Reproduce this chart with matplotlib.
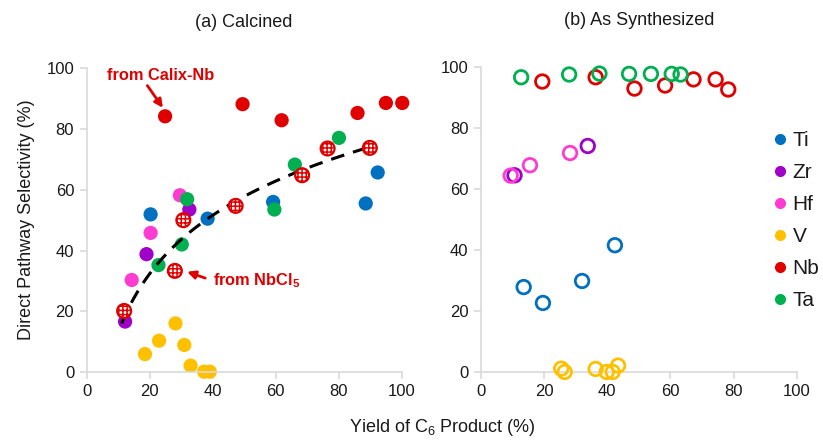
import numpy as np
import matplotlib
matplotlib.use("Agg")
import matplotlib.pyplot as plt
from matplotlib.lines import Line2D

plt.rcParams['font.family'] = ['Liberation Sans', 'DejaVu Sans']
plt.rcParams['mathtext.fontset'] = 'custom'
plt.rcParams['mathtext.rm'] = 'Liberation Sans'
plt.rcParams['mathtext.it'] = 'Liberation Sans:italic'
plt.rcParams['mathtext.bf'] = 'Liberation Sans:bold'

# colours per metal
metals = ['Ti', 'Zr', 'Hf', 'V', 'Nb', 'Ta']
colors = {'Ti': '#0070C0', 'Zr': '#A000C8', 'Hf': '#FF3CD2',
          'V': '#FFC000', 'Nb': '#E00000', 'Ta': '#00B050'}

# (a) calcined, solid markers
cal_ti_x = [20.3, 38.4, 59.2, 88.6, 92.4]
cal_ti_y = [51.9, 50.5, 56.0, 55.5, 65.7]
cal_zr_x = [32.6, 19.0, 12.2]
cal_zr_y = [53.5, 38.8, 16.6]
cal_hf_x = [29.6, 20.3, 14.3]
cal_hf_y = [58.2, 45.8, 30.3]
cal_v_x = [28.2, 23.0, 18.5, 31.0, 33.0, 37.3, 39.1]
cal_v_y = [16.0, 10.3, 5.9, 8.9, 2.1, 0.1, 0.1]
cal_nb_x = [24.9, 49.5, 61.9, 86.0, 95.0, 100.2]
cal_nb_y = [84.2, 88.2, 82.9, 85.3, 88.6, 88.6]
cal_ta_x = [80.1, 66.1, 59.6, 31.9, 30.2, 22.8]
cal_ta_y = [77.1, 68.3, 53.5, 56.9, 42.0, 35.2]
# Nb made from NbCl5 (hatched markers)
cal_nbcl_x = [11.9, 28.0, 30.7, 47.3, 68.4, 76.5, 89.9]
cal_nbcl_y = [20.1, 33.3, 50.0, 54.7, 64.8, 73.6, 73.8]

# (b) as synthesized, open markers
syn_ti_x = [42.4, 13.5, 19.6, 32.0]
syn_ti_y = [41.5, 27.8, 22.6, 29.8]
syn_zr_x = [10.6, 33.8]
syn_zr_y = [64.4, 74.0]
syn_hf_x = [9.4, 15.5, 28.2]
syn_hf_y = [64.3, 67.7, 71.7]
syn_v_x = [25.4, 26.5, 36.3, 39.8, 41.7, 43.4]
syn_v_y = [1.1, 0.0, 1.0, 0.0, 0.0, 2.1]
syn_nb_x = [19.4, 36.3, 48.6, 58.3, 67.3, 74.3, 78.3]
syn_nb_y = [95.1, 96.5, 92.8, 93.8, 95.8, 95.8, 92.5]
syn_ta_x = [12.7, 27.9, 37.5, 46.9, 53.8, 60.4, 63.2]
syn_ta_y = [96.5, 97.4, 97.7, 97.6, 97.6, 97.6, 97.4]

cal = {'Ti': (cal_ti_x, cal_ti_y), 'Zr': (cal_zr_x, cal_zr_y),
       'Hf': (cal_hf_x, cal_hf_y), 'V': (cal_v_x, cal_v_y),
       'Nb': (cal_nb_x, cal_nb_y), 'Ta': (cal_ta_x, cal_ta_y)}
syn = {'Ti': (syn_ti_x, syn_ti_y), 'Zr': (syn_zr_x, syn_zr_y),
       'Hf': (syn_hf_x, syn_hf_y), 'V': (syn_v_x, syn_v_y),
       'Nb': (syn_nb_x, syn_nb_y), 'Ta': (syn_ta_x, syn_ta_y)}

ticks = [0, 20, 40, 60, 80, 100]
grey = '#D9D9D9'
txt = '#1a1a1a'

fig = plt.figure(figsize=(8.23, 4.42), dpi=100)
ax1 = fig.add_axes([0.1053, 0.1584, 0.3827, 0.687])
ax2 = fig.add_axes([0.5845, 0.1584, 0.3836, 0.691])

for ax in (ax1, ax2):
    ax.set_xlim(0, 100)
    ax.set_ylim(0, 100)
    ax.set_xticks(ticks)
    ax.set_yticks(ticks)
    for s in ('top', 'right'):
        ax.spines[s].set_visible(False)
    for s in ('left', 'bottom'):
        ax.spines[s].set_color(grey)
        ax.spines[s].set_linewidth(1.2)
    ax.tick_params(direction='out', length=5, width=1.2, color=grey,
                   labelsize=12, labelcolor=txt, pad=4)
    ax.patch.set_alpha(0)

# log trend line through the NbCl5 series
lx = np.log(cal_nbcl_x)
a, b = np.polyfit(lx, cal_nbcl_y, 1)
tx = np.linspace(min(cal_nbcl_x) - 0.8, max(cal_nbcl_x) + 0.8, 100)
ax1.plot(tx, a * np.log(tx) + b, color='black', lw=2.2,
         dashes=(4.5, 3), zorder=3)

for m in metals:
    x, y = cal[m]
    ax1.scatter(x, y, s=105, color=colors[m], edgecolor='none',
                zorder=2 if m != 'Nb' else 4, clip_on=False)
plt.rcParams['hatch.linewidth'] = 1.1
ax1.scatter(cal_nbcl_x, cal_nbcl_y, s=100, facecolor='white',
            edgecolor=colors['Nb'], hatch='++++', linewidth=1.6, zorder=5,
            clip_on=False)

for m in metals:
    x, y = syn[m]
    ax2.scatter(x, y, s=95, facecolor='none', edgecolor=colors[m],
                linewidth=2.0, zorder=3, clip_on=False)

ax1.set_title('(a) Calcined', fontsize=13, color=txt, pad=30)
ax2.set_title('(b) As Synthesized', fontsize=13, color=txt, pad=30)
ax1.set_ylabel('Direct Pathway Selectivity (%)', fontsize=13, color=txt, labelpad=8)
fig.text(0.537, 0.032, 'Yield of C$_6$ Product (%)', fontsize=13,
         color=txt, ha='center', va='center')

ax1.annotate('from Calix-Nb', xy=(24.2, 87.0), xytext=(6.4, 97.7),
             fontsize=11.8, fontweight='bold', color=colors['Nb'],
             ha='left', va='center',
             arrowprops=dict(arrowstyle='-|>', color=colors['Nb'], lw=2,
                             mutation_scale=12, shrinkA=0, shrinkB=0,
                             relpos=(0.36, 0.0)))
ax1.annotate('from NbCl$_\\mathbf{5}$', xy=(31.9, 33.0), xytext=(40.2, 30.0),
             fontsize=11.8, fontweight='bold', color=colors['Nb'],
             ha='left', va='center',
             arrowprops=dict(arrowstyle='-|>', color=colors['Nb'], lw=2,
                             mutation_scale=12, shrinkA=4, shrinkB=0,
                             relpos=(0.0, 0.5)))

handles = [Line2D([], [], marker='o', ls='none', color=colors[m],
                  markersize=8, markeredgewidth=0) for m in metals]
fig.legend(handles, metals, loc='upper left', bbox_to_anchor=(0.925, 0.722),
           frameon=False, fontsize=15, handletextpad=0.1, labelspacing=0.62,
           handlelength=1.0, borderaxespad=0, labelcolor=txt)

fig.savefig('out.png', dpi=100)
